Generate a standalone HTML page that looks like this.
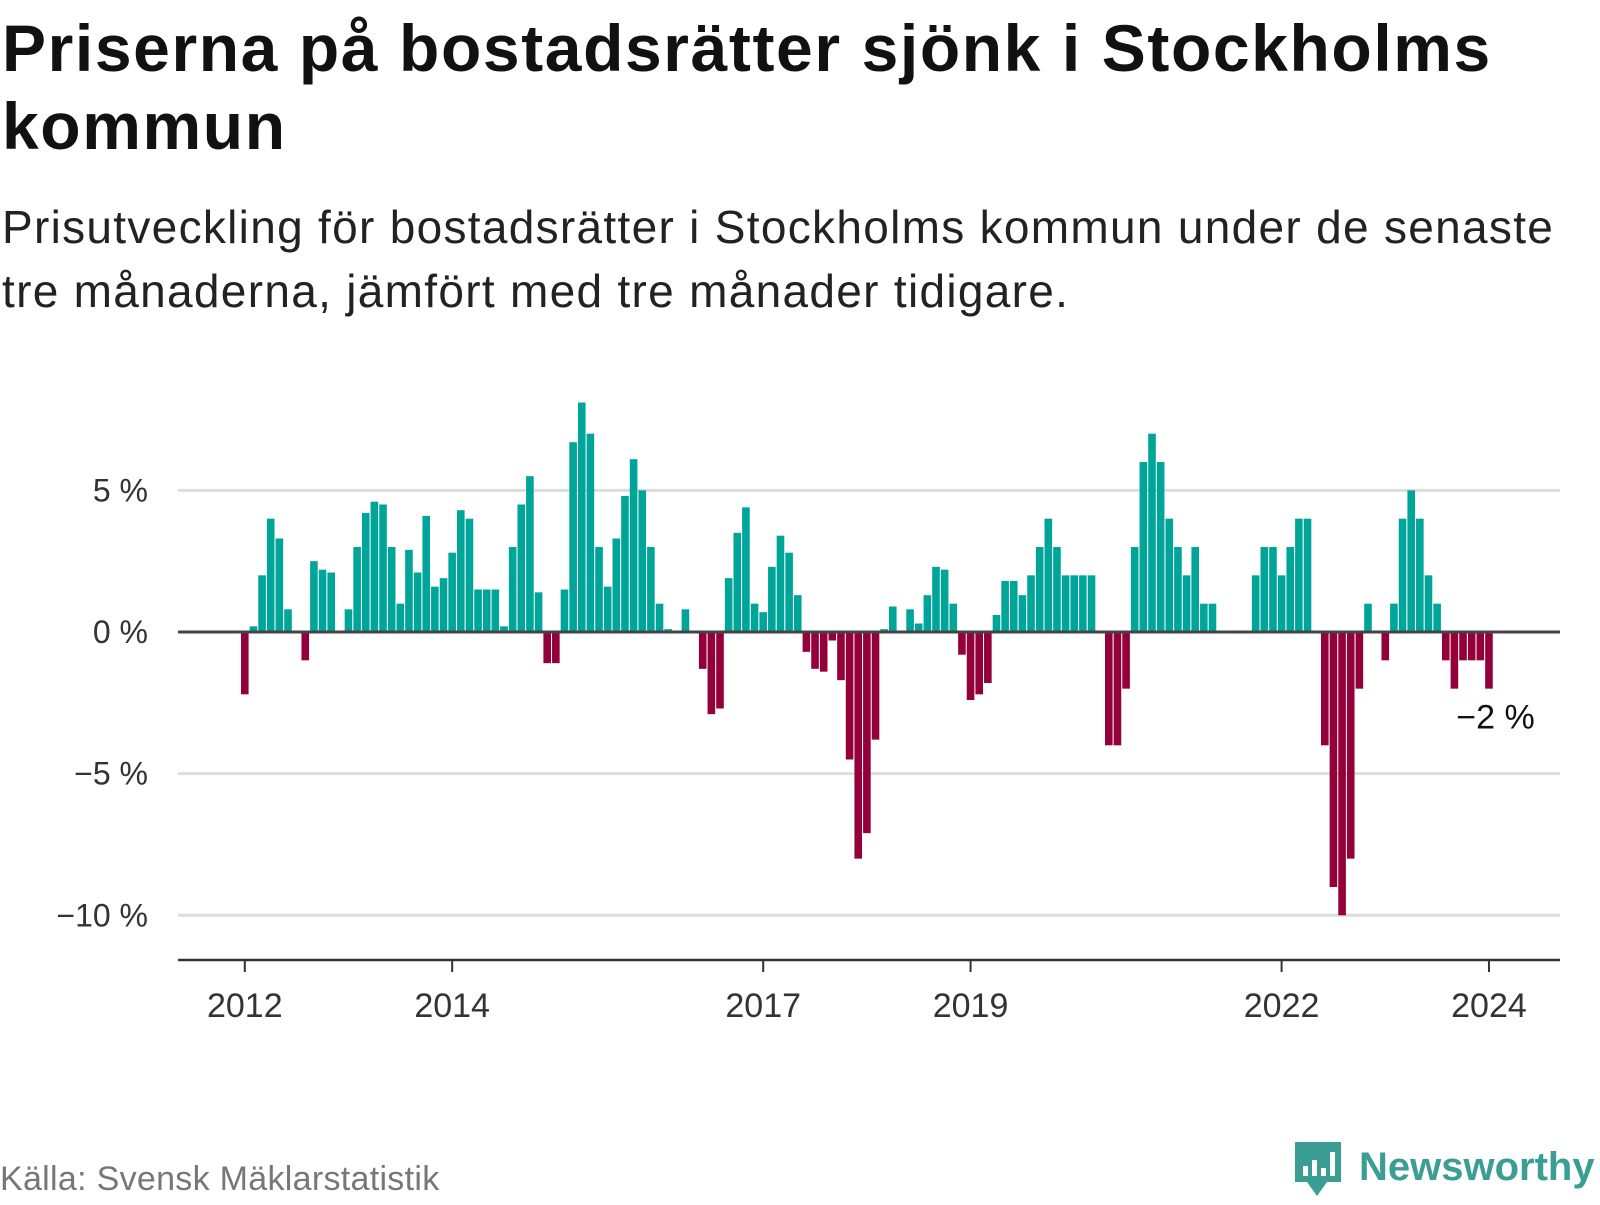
<!DOCTYPE html>
<html><head><meta charset="utf-8">
<style>
html,body{margin:0;padding:0;background:#fff;}
body{width:1600px;height:1200px;position:relative;overflow:hidden;font-family:"Liberation Sans",sans-serif;color:#111;}
#title{position:absolute;left:2px;top:9px;margin:0;font-size:66px;line-height:78px;font-weight:bold;letter-spacing:1.6px;white-space:nowrap;}
#subtitle{position:absolute;left:2px;top:195px;margin:0;font-size:46px;line-height:64px;color:#222;letter-spacing:1.3px;white-space:nowrap;}
#source{position:absolute;left:0;top:1160px;font-size:34px;color:#777;letter-spacing:0.3px;}
#logo{position:absolute;left:1293px;top:1140px;}
</style></head><body>
<h1 id="title">Priserna på bostadsrätter sjönk i Stockholms<br>kommun</h1>
<p id="subtitle">Prisutveckling för bostadsrätter i Stockholms kommun under de senaste<br>tre månaderna, jämfört med tre månader tidigare.</p>
<svg id="chart" width="1600" height="1200" style="position:absolute;left:0;top:0"></svg>
<div id="source">Källa: Svensk Mäklarstatistik</div>
<div id="logo">
<svg width="310" height="60">
<path d="M2 2 h46 v40 h-14 l-10 14 l-10 -14 h-12 z" fill="#3a9e94"/>
<rect x="10" y="26" width="5" height="10" fill="#fff"/><rect x="19" y="20" width="5" height="16" fill="#fff"/><rect x="28" y="28" width="5" height="8" fill="#fff"/><rect x="37" y="12" width="5" height="24" fill="#fff"/>
<text x="66" y="40" font-family="Liberation Sans, sans-serif" font-weight="bold" font-size="40" fill="#3a9e94">Newsworthy</text>
</svg></div>
<script>
const years = ["2012","2014","2017","2019","2022","2024"];
const yearIndex = [0,24,60,84,120,144];
const yTicks = [5,0,-5,-10];
const yTickLabels = ["5 %","0 %","−5 %","−10 %"];
const values = [
-2.2,0.2,2.0,4.0,3.3,0.8,0,-1.0,2.5,2.2,2.1,0,
0.8,3.0,4.2,4.6,4.5,3.0,1.0,2.9,2.1,4.1,1.6,1.9,
2.8,4.3,4.0,1.5,1.5,1.5,0.2,3.0,4.5,5.5,1.4,-1.1,
-1.1,1.5,6.7,8.1,7.0,3.0,1.6,3.3,4.8,6.1,5.0,3.0,
1.0,0.1,0,0.8,0,-1.3,-2.9,-2.7,1.9,3.5,4.4,1.0,
0.7,2.3,3.4,2.8,1.3,-0.7,-1.3,-1.4,-0.3,-1.7,-4.5,-8.0,
-7.1,-3.8,0.1,0.9,0,0.8,0.3,1.3,2.3,2.2,1.0,-0.8,
-2.4,-2.2,-1.8,0.6,1.8,1.8,1.3,2.0,3.0,4.0,3.0,2.0,
2.0,2.0,2.0,0,-4.0,-4.0,-2.0,3.0,6.0,7.0,6.0,4.0,
3.0,2.0,3.0,1.0,1.0,0,0,0,0,2.0,3.0,3.0,
2.0,3.0,4.0,4.0,0,-4.0,-9.0,-10.0,-8.0,-2.0,1.0,0,
-1.0,1.0,4.0,5.0,4.0,2.0,1.0,-1.0,-2.0,-1.0,-1.0,-1.0,
-2.0];
const lastLabel = "−2 %";
const NS="http://www.w3.org/2000/svg";
const svg=document.getElementById('chart');
const x0=241, pitch=8.64, bw=7.6, zeroY=632, pxPer=28.33;
const xs=i=>x0+i*pitch;
const ys=v=>zeroY-v*pxPer;
function mk(t,a){const e=document.createElementNS(NS,t);for(const k in a)e.setAttribute(k,a[k]);svg.appendChild(e);return e;}
yTicks.forEach((v,i)=>{
  if(v!==0){const g=mk('line',{x1:178,x2:1560,y1:ys(v),y2:ys(v),stroke:'#dddddd','stroke-width':3});
  
  }
  const t=mk('text',{x:148,y:ys(v)+11,'text-anchor':'end','font-size':32,fill:'#333','font-family':'Liberation Sans, sans-serif'});
  t.textContent=yTickLabels[i];
  
  
});
values.forEach((v,i)=>{
  if(v===0)return;
  const y=Math.min(ys(v),zeroY), h=Math.abs(ys(v)-zeroY);
  const r=mk('rect',{x:xs(i),y:y,width:bw,height:h,fill:v>0?'#00a599':'#93003a'});
  
  
});
const zl=mk('line',{x1:178,x2:1560,y1:zeroY,y2:zeroY,stroke:'#444','stroke-width':3});


const ax=mk('line',{x1:178,x2:1560,y1:960,y2:960,stroke:'#333','stroke-width':2.5});


years.forEach((yr,k)=>{
  const cx=xs(yearIndex[k])+bw/2;
  const tk=mk('line',{x1:cx,x2:cx,y1:960,y2:972,stroke:'#333','stroke-width':2});
  
  
  const t=mk('text',{x:cx,y:1017,'text-anchor':'middle','font-size':34,fill:'#333','font-family':'Liberation Sans, sans-serif'});
  t.textContent=yr;
  
  
});
const li=values.length-1;
const lb=mk('text',{x:xs(li)+bw+42,y:ys(values[li])+40,'text-anchor':'end','font-size':34,fill:'#111','font-family':'Liberation Sans, sans-serif'});
lb.textContent=lastLabel;


</script>
</body></html>
